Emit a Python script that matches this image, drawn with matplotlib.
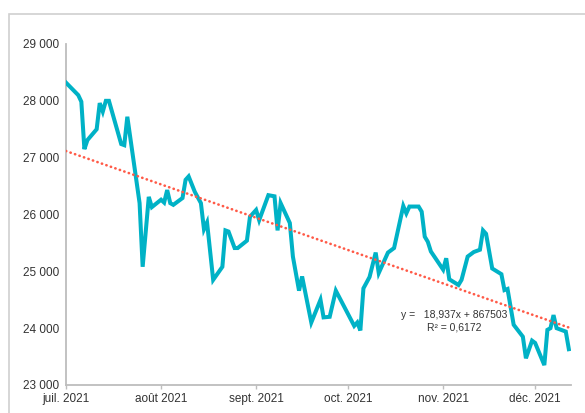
import numpy as np
import pandas as pd
import matplotlib
matplotlib.use("Agg")
import matplotlib.pyplot as plt
import matplotlib.dates as mdates
from matplotlib.patches import Rectangle
from matplotlib.ticker import FuncFormatter

# ----------------------------------------------------------------------------
# Data (vertices of the line)
# ----------------------------------------------------------------------------
dates = [
    "2021-07-01", "2021-07-05", "2021-07-06", "2021-07-07", "2021-07-08",
    "2021-07-11", "2021-07-12", "2021-07-13", "2021-07-14", "2021-07-15",
    "2021-07-18", "2021-07-19", "2021-07-20", "2021-07-21", "2021-07-25",
    "2021-07-26", "2021-07-28", "2021-07-29", "2021-08-01", "2021-08-02",
    "2021-08-03", "2021-08-04", "2021-08-05", "2021-08-08", "2021-08-09",
    "2021-08-10", "2021-08-12", "2021-08-14", "2021-08-15", "2021-08-16",
    "2021-08-18", "2021-08-21", "2021-08-22", "2021-08-23", "2021-08-25",
    "2021-08-26", "2021-08-29", "2021-08-30", "2021-09-01", "2021-09-02",
    "2021-09-05", "2021-09-07", "2021-09-08", "2021-09-09", "2021-09-12",
    "2021-09-13", "2021-09-15", "2021-09-16", "2021-09-19", "2021-09-22",
    "2021-09-23", "2021-09-25", "2021-09-27", "2021-10-03", "2021-10-04",
    "2021-10-05", "2021-10-06", "2021-10-08", "2021-10-10", "2021-10-11",
    "2021-10-14", "2021-10-16", "2021-10-19", "2021-10-20", "2021-10-21",
    "2021-10-24", "2021-10-25", "2021-10-26", "2021-10-27", "2021-10-28",
    "2021-11-01", "2021-11-02", "2021-11-03", "2021-11-06", "2021-11-07",
    "2021-11-09", "2021-11-11", "2021-11-13", "2021-11-14", "2021-11-15",
    "2021-11-17", "2021-11-20", "2021-11-21", "2021-11-22", "2021-11-24",
    "2021-11-27", "2021-11-28", "2021-11-30", "2021-12-01", "2021-12-04",
    "2021-12-05", "2021-12-06", "2021-12-07", "2021-12-08", "2021-12-11",
    "2021-12-12",
]
values = [
    28320, 28100, 27985, 27150, 27310,
    27500, 27960, 27810, 28000, 28000,
    27430, 27240, 27220, 27720, 26200,
    25080, 26310, 26130, 26260, 26210,
    26430, 26200, 26170, 26290, 26610,
    26670, 26400, 26200, 25740, 25860,
    24850, 25080, 25720, 25700, 25410,
    25410, 25540, 25960, 26080, 25900,
    26340, 26320, 25720, 26200, 25850,
    25260, 24660, 24910, 24100, 24500,
    24190, 24200, 24660, 24040, 24100,
    23960, 24700, 24900, 25330, 24970,
    25330, 25410, 26150, 26020, 26140,
    26140, 26050, 25610, 25520, 25350,
    25030, 25230, 24860, 24760, 24850,
    25260, 25340, 25380, 25720, 25660,
    25050, 24950, 24670, 24690, 24060,
    23850, 23470, 23780, 23740, 23350,
    23970, 24000, 24230, 24000, 23940,
    23630,
]

# linear trendline as printed on the chart (Excel serial dates)
trend_slope = -18.937
trend_intercept = 867503
trend_label = "y =   18,937x + 867503"
r2_label = "R\u00b2 = 0,6172"

month_ticks = ["2021-07-01", "2021-08-01", "2021-09-01",
               "2021-10-01", "2021-11-01", "2021-12-01"]
month_labels = ["juil. 2021", "août 2021", "sept. 2021",
                "oct. 2021", "nov. 2021", "déc. 2021"]
y_ticks = [23000, 24000, 25000, 26000, 27000, 28000, 29000]

# ----------------------------------------------------------------------------
# Plot
# ----------------------------------------------------------------------------
plt.rcParams['font.family'] = ['Liberation Sans', 'DejaVu Sans']

x = pd.to_datetime(dates)
fig = plt.figure(figsize=(5.85, 4.13), dpi=100)

# light frame around the chart area (only top / left visible)
fig.patches.append(Rectangle((9 / 585, -0.1), 1.2, 1 - 14 / 413 + 0.1,
                             transform=fig.transFigure, fill=False,
                             edgecolor='#d0d0d0', linewidth=1.2))

ax = fig.add_axes([66 / 585, 1 - 385 / 413, 505 / 585, 341 / 413])

ax.plot(x, values, color='#00b2c6', linewidth=2.9, solid_joinstyle='miter',
        zorder=3)

# trendline
x_trend = pd.to_datetime([dates[0], dates[-1]])
serial = mdates.date2num(x_trend) + 25569
ax.plot(x_trend, trend_slope * serial + trend_intercept, color='#ff5a47',
        linewidth=1.9, linestyle=(0, (0.1, 1.7)), dash_capstyle='round',
        zorder=4)

ax.set_ylim(23000, 29000)
ax.set_xlim(x[0], x[-1] + pd.Timedelta(days=0.7))
ax.set_yticks(y_ticks)
ax.yaxis.set_major_formatter(FuncFormatter(lambda v, p: f"{int(v):,}".replace(",", " ")))
ax.set_xticks(pd.to_datetime(month_ticks))
ax.set_xticklabels(month_labels)

for side in ['top', 'right']:
    ax.spines[side].set_visible(False)
for side in ['left', 'bottom']:
    ax.spines[side].set_color('#bdbdbd')
    ax.spines[side].set_linewidth(1.3)

ax.tick_params(axis='y', length=0, pad=5, labelsize=8.5, labelcolor='#333333')
ax.tick_params(axis='x', length=3, width=1, color='#bdbdbd', pad=2.5,
               labelsize=8.5, labelcolor='#333333')

ax.text(0.663, 0.205, trend_label, transform=ax.transAxes, fontsize=7.5,
        color='#333333', va='center', ha='left')
ax.text(0.714, 0.168, r2_label, transform=ax.transAxes, fontsize=7.5,
        color='#333333', va='center', ha='left')

fig.savefig("out.png", dpi=100)
plt.close(fig)
